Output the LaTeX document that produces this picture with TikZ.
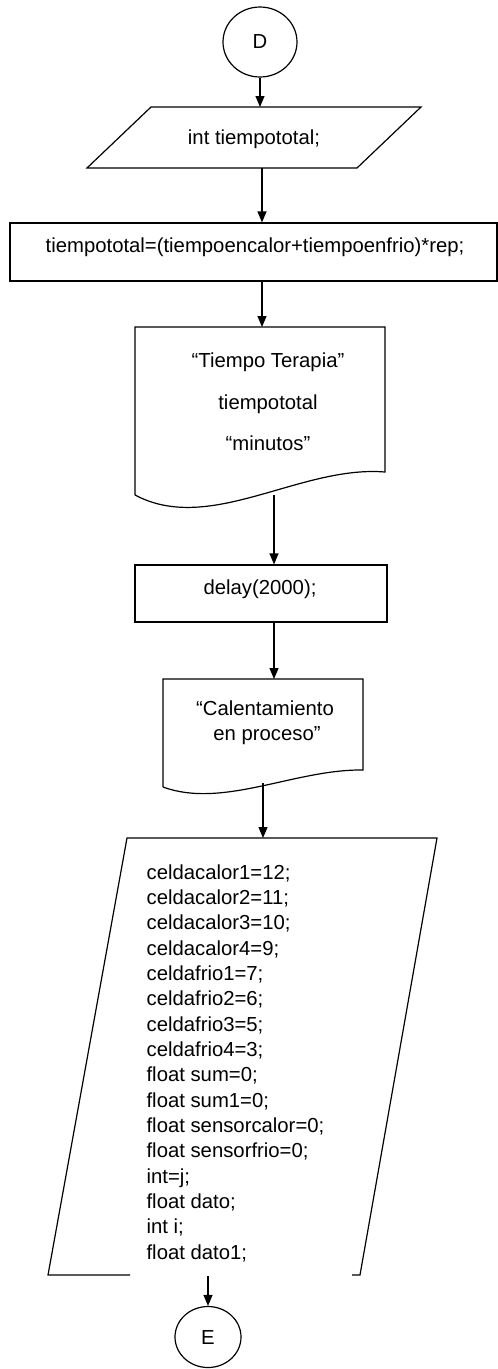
\documentclass[tikz,border=0pt]{standalone}
\usepackage{fontspec}
\setmainfont{Liberation Sans}
\usetikzlibrary{arrows.meta,shapes.geometric}
\begin{document}
\begin{tikzpicture}[x=1pt,y=-1pt,line width=1.2pt,
  arr/.style={-{Triangle[width=9pt,length=11pt]}},
  txt/.style={font=\fontsize{20.3}{25.33}\selectfont,inner sep=0pt},
  box/.style={draw,line width=1.2pt,inner sep=0pt}]
\useasboundingbox (0,0) rectangle (498,1369);

% connector D
\node[box,ellipse,minimum width=74pt,minimum height=70pt,txt] (D) at (260,42) {D};

% input parallelogram
\draw (87,168) -- (357,168) -- (421,107) -- (151,107) -- cycle;
\node[txt,anchor=base] (n1) at (254,144) {int tiempototal;};
\coordinate (p1t) at (260,107);
\coordinate (p1b) at (262,168);

% process rectangle
\node[box,minimum width=487pt,minimum height=58pt] (R) at (253.5,252) {};
\node[txt,anchor=base] (n2) at (255,252) {tiempototal=(tiempoencalor+tiempoenfrio)*rep;};

% document 1
\draw (135,495) -- (135,327) -- (385,327) -- (385,472)
  .. controls (300,465) and (210,535) .. (135,495);
\coordinate (d1t) at (262,327);
\coordinate (d1b) at (274,495);
\node[txt,anchor=base] (n3a) at (268,367) {“Tiempo Terapia”};
\node[txt,anchor=base] (n3b) at (268,409) {tiempototal};
\node[txt,anchor=base] (n3c) at (268,450) {“minutos”};

% delay
\node[box,minimum width=252pt,minimum height=57pt] (Del) at (261,593.5) {};
\node[txt,anchor=base] (n4) at (260,594) {delay(2000);};

% document 2
\draw (163,787) -- (163,679) -- (363,679) -- (363,770)
  .. controls (295,769) and (223,809) .. (163,787);
\coordinate (d2t) at (274,679);
\coordinate (d2b) at (263,783);
\node[txt,anchor=base] (n5a) at (265,715) {“Calentamiento};
\node[txt,anchor=base] (n5b) at (267,740) {en proceso”};

% big parallelogram
\draw (130,1275) -- (48,1275) -- (127,838) -- (437,838) -- (360,1275) -- (352,1275);
\coordinate (pt) at (263,838);
\coordinate (pb) at (208,1276);
\node[txt,anchor=north west,align=left] (n6) at (146,864) {celdacalor1=12;\\
celdacalor2=11;\\
celdacalor3=10;\\
celdacalor4=9;\\
celdafrio1=7;\\
celdafrio2=6;\\
celdafrio3=5;\\
celdafrio4=3;\\
float sum=0;\\
float sum1=0;\\
float sensorcalor=0;\\
float sensorfrio=0;\\
int=j;\\
float dato;\\
int i;\\
float dato1;};

% connector E
\node[box,ellipse,minimum width=66pt,minimum height=61pt,txt] (E) at (208,1337) {E};

% arrows
\draw[arr] (D.south) -- (p1t);
\draw[arr] (p1b) -- (p1b |- R.north);
\draw[arr] (R.south -| d1t) -- (d1t);
\draw[arr] (d1b) -- (d1b |- Del.north);
\draw[arr] (Del.south -| d2t) -- (d2t);
\draw[arr] (d2b) -- (pt);
\draw[arr] (pb) -- (E.north);
\end{tikzpicture}
\end{document}
